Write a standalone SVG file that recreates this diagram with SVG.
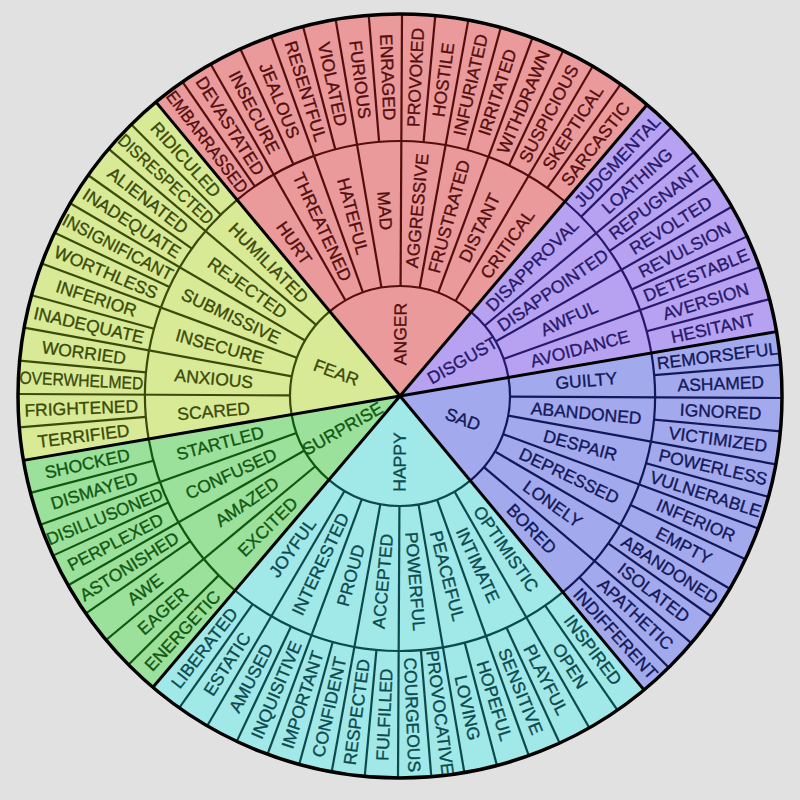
<svg xmlns="http://www.w3.org/2000/svg" width="800" height="800" viewBox="0 0 800 800">
<style>
text{font-family:"Liberation Sans",Arial,sans-serif;font-size:17.5px;text-anchor:middle;dominant-baseline:central;stroke-width:0.35px}
.f{stroke:none}
.l{fill:none;stroke-width:2.2}
.l line{stroke-width:2.2}
.anger .f{fill:#ea9a9a}.anger .l{stroke:#540e0e}.anger text{fill:#540e0e;stroke:#540e0e}
.disgust .f{fill:#b6a2f0}.disgust .l{stroke:#28196c}.disgust text{fill:#28196c;stroke:#28196c}
.sad .f{fill:#a2a9ec}.sad .l{stroke:#131858}.sad text{fill:#131858;stroke:#131858}
.happy .f{fill:#a1e8e8}.happy .l{stroke:#0c4a4e}.happy text{fill:#0c4a4e;stroke:#0c4a4e}
.surprise .f{fill:#9be19b}.surprise .l{stroke:#125812}.surprise text{fill:#125812;stroke:#125812}
.fear .f{fill:#d8ea96}.fear .l{stroke:#3b4b0a}.fear text{fill:#3b4b0a;stroke:#3b4b0a}
.b line{stroke:#000;stroke-width:3}
</style>
<rect width="800" height="800" fill="#e1e1e1"/>

<g id="anger" class="anger" transform="translate(400 396) rotate(-129.7)">
<path class="f" d="M0 0 L382 0 A382 382 0 0 1 66.33 376.2 Z"/>
<path class="l" d="M110 0 A110 110 0 0 1 19.1 108.33 M255 0 A255 255 0 0 1 44.28 251.13"/>
<g class="l">
<line x1="110" x2="382" transform="rotate(10)"/><line x1="110" x2="382" transform="rotate(20)"/><line x1="110" x2="382" transform="rotate(30)"/><line x1="110" x2="382" transform="rotate(40)"/><line x1="110" x2="382" transform="rotate(50)"/><line x1="110" x2="382" transform="rotate(60)"/><line x1="110" x2="382" transform="rotate(70)"/>
<line x1="255" x2="382" transform="rotate(5)"/><line x1="255" x2="382" transform="rotate(15)"/><line x1="255" x2="382" transform="rotate(25)"/><line x1="255" x2="382" transform="rotate(35)"/><line x1="255" x2="382" transform="rotate(45)"/><line x1="255" x2="382" transform="rotate(55)"/><line x1="255" x2="382" transform="rotate(65)"/><line x1="255" x2="382" transform="rotate(75)"/>
</g>
<text transform="rotate(40) translate(62 0)">ANGER</text>
<text transform="rotate(5) translate(186 0) rotate(180)">HURT</text>
<text transform="rotate(15) translate(186 0) rotate(180)">THREATENED</text>
<text transform="rotate(25) translate(186 0) rotate(180)">HATEFUL</text>
<text transform="rotate(35) translate(186 0) rotate(180)">MAD</text>
<text transform="rotate(45) translate(186 0)">AGGRESSIVE</text>
<text transform="rotate(55) translate(186 0)">FRUSTRATED</text>
<text transform="rotate(65) translate(186 0)">DISTANT</text>
<text transform="rotate(75) translate(186 0)">CRITICAL</text>
<text transform="rotate(2.5) translate(319 0) rotate(180)" textLength="123" lengthAdjust="spacingAndGlyphs">EMBARRASSED</text>
<text transform="rotate(7.5) translate(319 0) rotate(180)">DEVASTATED</text>
<text transform="rotate(12.5) translate(319 0) rotate(180)">INSECURE</text>
<text transform="rotate(17.5) translate(319 0) rotate(180)">JEALOUS</text>
<text transform="rotate(22.5) translate(319 0) rotate(180)">RESENTFUL</text>
<text transform="rotate(27.5) translate(319 0) rotate(180)">VIOLATED</text>
<text transform="rotate(32.5) translate(319 0) rotate(180)">FURIOUS</text>
<text transform="rotate(37.5) translate(319 0) rotate(180)">ENRAGED</text>
<text transform="rotate(42.5) translate(319 0)">PROVOKED</text>
<text transform="rotate(47.5) translate(319 0)">HOSTILE</text>
<text transform="rotate(52.5) translate(319 0)">INFURIATED</text>
<text transform="rotate(57.5) translate(319 0)">IRRITATED</text>
<text transform="rotate(62.5) translate(319 0)">WITHDRAWN</text>
<text transform="rotate(67.5) translate(319 0)">SUSPICIOUS</text>
<text transform="rotate(72.5) translate(319 0)">SKEPTICAL</text>
<text transform="rotate(77.5) translate(319 0)">SARCASTIC</text>
</g>

<g id="disgust" class="disgust" transform="translate(400 396) rotate(-49.7)">
<path class="f" d="M0 0 L382 0 A382 382 0 0 1 292.63 245.55 Z"/>
<path class="l" d="M110 0 A110 110 0 0 1 84.26 70.71 M255 0 A255 255 0 0 1 195.34 163.91"/>
<g class="l">
<line x1="110" x2="382" transform="rotate(10)"/><line x1="110" x2="382" transform="rotate(20)"/><line x1="110" x2="382" transform="rotate(30)"/>
<line x1="255" x2="382" transform="rotate(5)"/><line x1="255" x2="382" transform="rotate(15)"/><line x1="255" x2="382" transform="rotate(25)"/><line x1="255" x2="382" transform="rotate(35)"/>
</g>
<text transform="rotate(20) translate(72 0)">DISGUST</text>
<text transform="rotate(5) translate(186 0)">DISAPPROVAL</text>
<text transform="rotate(15) translate(186 0)">DISAPPOINTED</text>
<text transform="rotate(25) translate(186 0)">AWFUL</text>
<text transform="rotate(35) translate(186 0)">AVOIDANCE</text>
<text transform="rotate(2.5) translate(320 0)">JUDGMENTAL</text>
<text transform="rotate(7.5) translate(320 0)">LOATHING</text>
<text transform="rotate(12.5) translate(320 0)">REPUGNANT</text>
<text transform="rotate(17.5) translate(320 0)">REVOLTED</text>
<text transform="rotate(22.5) translate(320 0)">REVULSION</text>
<text transform="rotate(27.5) translate(320 0)">DETESTABLE</text>
<text transform="rotate(32.5) translate(320 0)">AVERSION</text>
<text transform="rotate(37.5) translate(320 0)">HESITANT</text>
</g>

<g id="sad" class="sad" transform="translate(400 396) rotate(-9.7)">
<path class="f" d="M0 0 L382 0 A382 382 0 0 1 191 330.82 Z"/>
<path class="l" d="M110 0 A110 110 0 0 1 55 95.26 M255 0 A255 255 0 0 1 127.5 220.84"/>
<g class="l">
<line x1="110" x2="382" transform="rotate(10)"/><line x1="110" x2="382" transform="rotate(20)"/><line x1="110" x2="382" transform="rotate(30)"/><line x1="110" x2="382" transform="rotate(40)"/><line x1="110" x2="382" transform="rotate(50)"/>
<line x1="255" x2="382" transform="rotate(5)"/><line x1="255" x2="382" transform="rotate(15)"/><line x1="255" x2="382" transform="rotate(25)"/><line x1="255" x2="382" transform="rotate(35)"/><line x1="255" x2="382" transform="rotate(45)"/><line x1="255" x2="382" transform="rotate(55)"/>
</g>
<text transform="rotate(30) translate(67 0)">SAD</text>
<text transform="rotate(5) translate(187 0)">GUILTY</text>
<text transform="rotate(15) translate(187 0)">ABANDONED</text>
<text transform="rotate(25) translate(187 0)">DESPAIR</text>
<text transform="rotate(35) translate(187 0)">DEPRESSED</text>
<text transform="rotate(45) translate(187 0)">LONELY</text>
<text transform="rotate(55) translate(187 0)">BORED</text>
<text transform="rotate(2.5) translate(320 0)" textLength="122" lengthAdjust="spacingAndGlyphs">REMORSEFUL</text>
<text transform="rotate(7.5) translate(321 0)">ASHAMED</text>
<text transform="rotate(12.5) translate(321 0)">IGNORED</text>
<text transform="rotate(17.5) translate(321 0)">VICTIMIZED</text>
<text transform="rotate(22.5) translate(321 0)">POWERLESS</text>
<text transform="rotate(27.5) translate(321 0)">VULNERABLE</text>
<text transform="rotate(32.5) translate(321 0)">INFERIOR</text>
<text transform="rotate(37.5) translate(321 0)">EMPTY</text>
<text transform="rotate(42.5) translate(321 0)">ABANDONED</text>
<text transform="rotate(47.5) translate(321 0)">ISOLATED</text>
<text transform="rotate(52.5) translate(321 0)">APATHETIC</text>
<text transform="rotate(57.5) translate(321 0)">INDIFFERENT</text>
</g>

<g id="happy" class="happy" transform="translate(400 396) rotate(50.3)">
<path class="f" d="M0 0 L382 0 A382 382 0 0 1 66.33 376.2 Z"/>
<path class="l" d="M110 0 A110 110 0 0 1 19.1 108.33 M255 0 A255 255 0 0 1 44.28 251.13"/>
<g class="l">
<line x1="110" x2="382" transform="rotate(10)"/><line x1="110" x2="382" transform="rotate(20)"/><line x1="110" x2="382" transform="rotate(30)"/><line x1="110" x2="382" transform="rotate(40)"/><line x1="110" x2="382" transform="rotate(50)"/><line x1="110" x2="382" transform="rotate(60)"/><line x1="110" x2="382" transform="rotate(70)"/>
<line x1="255" x2="382" transform="rotate(5)"/><line x1="255" x2="382" transform="rotate(15)"/><line x1="255" x2="382" transform="rotate(25)"/><line x1="255" x2="382" transform="rotate(35)"/><line x1="255" x2="382" transform="rotate(45)"/><line x1="255" x2="382" transform="rotate(55)"/><line x1="255" x2="382" transform="rotate(65)"/><line x1="255" x2="382" transform="rotate(75)"/>
</g>
<text transform="rotate(40) translate(66 0) rotate(180)">HAPPY</text>
<text transform="rotate(5) translate(186 0)">OPTIMISTIC</text>
<text transform="rotate(15) translate(186 0)">INTIMATE</text>
<text transform="rotate(25) translate(186 0)">PEACEFUL</text>
<text transform="rotate(35) translate(186 0)">POWERFUL</text>
<text transform="rotate(45) translate(186 0) rotate(180)">ACCEPTED</text>
<text transform="rotate(55) translate(186 0) rotate(180)">PROUD</text>
<text transform="rotate(65) translate(186 0) rotate(180)">INTERESTED</text>
<text transform="rotate(75) translate(186 0) rotate(180)">JOYFUL</text>
<text transform="rotate(2.5) translate(319 0)">INSPIRED</text>
<text transform="rotate(7.5) translate(319 0)">OPEN</text>
<text transform="rotate(12.5) translate(319 0)">PLAYFUL</text>
<text transform="rotate(17.5) translate(319 0)">SENSITIVE</text>
<text transform="rotate(22.5) translate(319 0)">HOPEFUL</text>
<text transform="rotate(27.5) translate(319 0)">LOVING</text>
<text transform="rotate(32.5) translate(319 0)">PROVOCATIVE</text>
<text transform="rotate(37.5) translate(319 0)">COURGEOUS</text>
<text transform="rotate(42.5) translate(319 0) rotate(180)">FULFILLED</text>
<text transform="rotate(47.5) translate(319 0) rotate(180)">RESPECTED</text>
<text transform="rotate(52.5) translate(319 0) rotate(180)">CONFIDENT</text>
<text transform="rotate(57.5) translate(319 0) rotate(180)">IMPORTANT</text>
<text transform="rotate(62.5) translate(319 0) rotate(180)">INQUISITIVE</text>
<text transform="rotate(67.5) translate(319 0) rotate(180)">AMUSED</text>
<text transform="rotate(72.5) translate(319 0) rotate(180)">ESTATIC</text>
<text transform="rotate(77.5) translate(319 0) rotate(180)">LIBERATED</text>
</g>

<g id="surprise" class="surprise" transform="translate(400 396) rotate(130.3)">
<path class="f" d="M0 0 L382 0 A382 382 0 0 1 292.63 245.55 Z"/>
<path class="l" d="M110 0 A110 110 0 0 1 84.26 70.71 M255 0 A255 255 0 0 1 195.34 163.91"/>
<g class="l">
<line x1="110" x2="382" transform="rotate(10)"/><line x1="110" x2="382" transform="rotate(20)"/><line x1="110" x2="382" transform="rotate(30)"/>
<line x1="255" x2="382" transform="rotate(5)"/><line x1="255" x2="382" transform="rotate(15)"/><line x1="255" x2="382" transform="rotate(25)"/><line x1="255" x2="382" transform="rotate(35)"/>
</g>
<text transform="rotate(20) translate(66 0) rotate(180)">SURPRISE</text>
<text transform="rotate(5) translate(186 0) rotate(180)">EXCITED</text>
<text transform="rotate(15) translate(186 0) rotate(180)">AMAZED</text>
<text transform="rotate(25) translate(186 0) rotate(180)">CONFUSED</text>
<text transform="rotate(35) translate(186 0) rotate(180)">STARTLED</text>
<text transform="rotate(2.5) translate(320 0) rotate(180)">ENERGETIC</text>
<text transform="rotate(7.5) translate(320 0) rotate(180)">EAGER</text>
<text transform="rotate(12.5) translate(320 0) rotate(180)">AWE</text>
<text transform="rotate(17.5) translate(320 0) rotate(180)">ASTONISHED</text>
<text transform="rotate(22.5) translate(320 0) rotate(180)">PERPLEXED</text>
<text transform="rotate(27.5) translate(319 0) rotate(180)" textLength="124" lengthAdjust="spacingAndGlyphs">DISILLUSONED</text>
<text transform="rotate(32.5) translate(320 0) rotate(180)">DISMAYED</text>
<text transform="rotate(37.5) translate(320 0) rotate(180)">SHOCKED</text>
</g>

<g id="fear" class="fear" transform="translate(400 396) rotate(170.3)">
<path class="f" d="M0 0 L382 0 A382 382 0 0 1 191 330.82 Z"/>
<path class="l" d="M110 0 A110 110 0 0 1 55 95.26 M255 0 A255 255 0 0 1 127.5 220.84"/>
<g class="l">
<line x1="110" x2="382" transform="rotate(10)"/><line x1="110" x2="382" transform="rotate(20)"/><line x1="110" x2="382" transform="rotate(30)"/><line x1="110" x2="382" transform="rotate(40)"/><line x1="110" x2="382" transform="rotate(50)"/>
<line x1="255" x2="382" transform="rotate(5)"/><line x1="255" x2="382" transform="rotate(15)"/><line x1="255" x2="382" transform="rotate(25)"/><line x1="255" x2="382" transform="rotate(35)"/><line x1="255" x2="382" transform="rotate(45)"/><line x1="255" x2="382" transform="rotate(55)"/>
</g>
<text transform="rotate(30) translate(68 0) rotate(180)">FEAR</text>
<text transform="rotate(5) translate(187 0) rotate(180)">SCARED</text>
<text transform="rotate(15) translate(187 0) rotate(180)">ANXIOUS</text>
<text transform="rotate(25) translate(187 0) rotate(180)">INSECURE</text>
<text transform="rotate(35) translate(187 0) rotate(180)">SUBMISSIVE</text>
<text transform="rotate(45) translate(187 0) rotate(180)">REJECTED</text>
<text transform="rotate(55) translate(187 0) rotate(180)">HUMILIATED</text>
<text transform="rotate(2.5) translate(319 0) rotate(180)">TERRIFIED</text>
<text transform="rotate(7.5) translate(319 0) rotate(180)">FRIGHTENED</text>
<text transform="rotate(12.5) translate(319 0) rotate(180)" textLength="124" lengthAdjust="spacingAndGlyphs">OVERWHELMED</text>
<text transform="rotate(17.5) translate(319 0) rotate(180)">WORRIED</text>
<text transform="rotate(22.5) translate(319 0) rotate(180)">INADEQUATE</text>
<text transform="rotate(27.5) translate(319 0) rotate(180)">INFERIOR</text>
<text transform="rotate(32.5) translate(319 0) rotate(180)">WORTHLESS</text>
<text transform="rotate(37.5) translate(319 0) rotate(180)" textLength="122" lengthAdjust="spacingAndGlyphs">INSIGNIFICANT</text>
<text transform="rotate(42.5) translate(319 0) rotate(180)">INADEQUATE</text>
<text transform="rotate(47.5) translate(319 0) rotate(180)">ALIENATED</text>
<text transform="rotate(52.5) translate(319 0) rotate(180)" textLength="123" lengthAdjust="spacingAndGlyphs">DISRESPECTED</text>
<text transform="rotate(57.5) translate(319 0) rotate(180)">RIDICULED</text>
</g>

<g id="connectors" class="b" transform="translate(400 396)">
<line x1="0" y1="0" x2="382" y2="0" transform="rotate(-129.7)"/>
<line x1="0" y1="0" x2="382" y2="0" transform="rotate(-49.7)"/>
<line x1="0" y1="0" x2="382" y2="0" transform="rotate(-9.7)"/>
<line x1="0" y1="0" x2="382" y2="0" transform="rotate(50.3)"/>
<line x1="0" y1="0" x2="382" y2="0" transform="rotate(130.3)"/>
<line x1="0" y1="0" x2="382" y2="0" transform="rotate(170.3)"/>
<circle cx="0" cy="0" r="382" fill="none" stroke="#000" stroke-width="3.5"/>
</g>
</svg>
